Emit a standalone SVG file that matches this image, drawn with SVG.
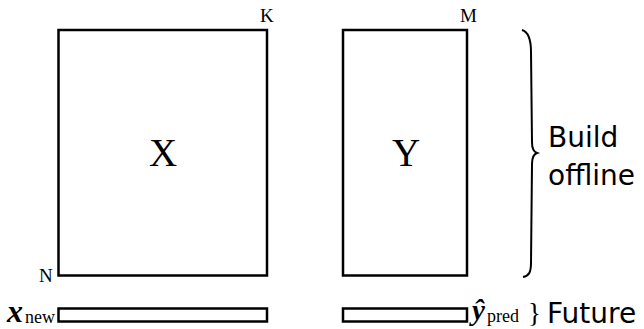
<svg xmlns="http://www.w3.org/2000/svg" width="644" height="329" viewBox="0 0 644 329">
<style>
.box{fill:#fff;stroke:#000;stroke-width:2.5}
.serif{font-family:"Liberation Serif","Times New Roman",serif;fill:#000}
.sans{font-family:"DejaVu Sans",sans-serif;fill:#000}
.bi{font-weight:bold;font-style:italic}
</style>
<rect width="644" height="329" fill="#fff"/>
<g id="matrix-X">
<rect class="box" x="58.5" y="30" width="208.5" height="245.5"/>
<text class="serif" x="163" y="166" font-size="39" text-anchor="middle">X</text>
<text class="serif" x="260" y="22" font-size="19">K</text>
<text class="serif" x="39" y="282" font-size="19">N</text>
</g>
<g id="matrix-Y">
<rect class="box" x="343" y="30" width="124" height="245.5"/>
<text class="serif" x="406" y="166" font-size="39" text-anchor="middle">Y</text>
<text class="serif" x="460" y="22" font-size="19">M</text>
</g>
<g id="x-new">
<rect class="box" x="58.5" y="308.5" width="208.5" height="13"/>
<text class="serif" y="322"><tspan class="bi" x="7" font-size="32">x</tspan><tspan x="25" y="323" font-size="18">new</tspan></text>
</g>
<g id="y-pred">
<rect class="box" x="343" y="308.5" width="124" height="13"/>
<text class="serif" y="320"><tspan class="bi" x="472" font-size="29">ŷ</tspan><tspan x="487" y="322" font-size="18">pred</tspan></text>
</g>
<g id="build-offline">
<path d="M522,30 C529,32 531,40 531,52 L532,142 C532,148 534,152 537,153 C534,154 532,158 532,164 L531,263 C531,272 529,276 523,277" fill="none" stroke="#000" stroke-width="2"/>
<text class="sans" x="548" y="147" font-size="28">Build</text>
<text class="sans" x="548" y="185" font-size="28">offline</text>
</g>
<g id="future">
<text class="serif" x="528" y="322" font-size="27">}</text>
<text class="sans" x="547" y="323" font-size="28">Future</text>
</g>
</svg>
